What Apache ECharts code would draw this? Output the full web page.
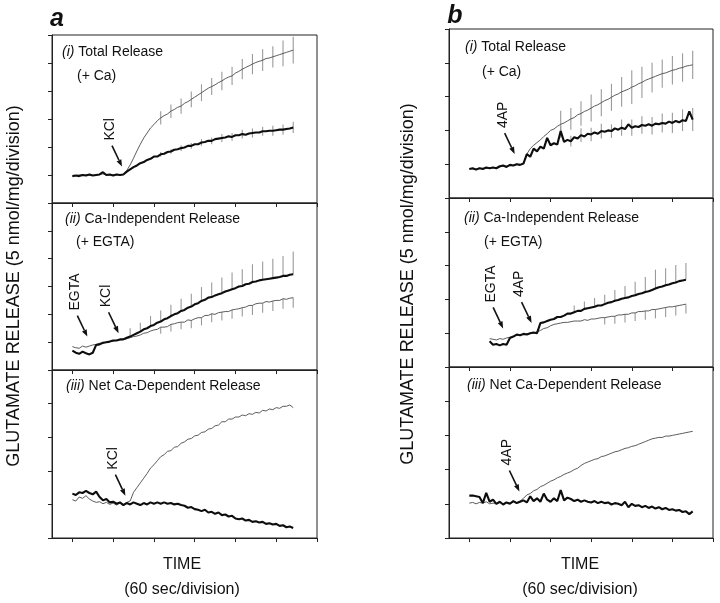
<!DOCTYPE html>
<html><head><meta charset="utf-8">
<script src="https://cdn.jsdelivr.net/npm/echarts@6/dist/echarts.min.js"></script>
<style>html,body{margin:0;padding:0;background:#fff}#c{width:720px;height:603px}</style>
</head><body><div id="c"></div>
<script>
// time in seconds (60 s per division)
const TIME = [0,5,10,15,20,25,30,35,40,45,50,55,60,65,70,75,80,85,90,95,100,105,110,115,120,125,130,135,140,145,150,155,160,165,170,175,180,185,190,195,200,205,210,215,220,225,230,235,240,245,250,255,260,265,270,275,280,285,290,295,300,305,310,315,320,325,330];
const X_TICKS = [0,60,120,180,240,300,360];

// glutamate release, nmol/mg (5 nmol/mg per division)
// Panel a (KCl)
const A1_THICK = [4.8,4.9,4.8,5.0,4.9,5.1,4.9,5.0,5.1,5.5,5.0,5.1,4.9,5.1,5.0,5.1,5.6,6.0,6.4,6.7,7.1,7.3,7.7,7.9,8.3,8.3,8.7,8.8,9.1,9.2,9.5,9.6,9.8,9.9,10.2,10.2,10.5,10.5,10.8,10.9,11.1,11.1,11.4,11.5,11.6,11.7,11.9,11.8,12.1,12.1,12.3,12.2,12.4,12.5,12.6,12.6,12.8,12.8,12.9,12.9,13.0,13.1,13.1,13.2,13.3,13.5];
const A1_THIN = [4.8,4.9,5.0,5.0,5.0,5.0,4.9,5.0,5.1,5.2,5.0,5.0,5.0,5.1,5.0,5.1,5.8,6.8,8.0,9.3,10.5,11.6,12.5,13.4,14.0,14.7,15.2,15.6,15.9,16.4,16.7,17.1,17.3,17.8,18.1,18.5,18.9,19.3,19.7,20.1,20.5,20.8,21.1,21.5,21.8,22.2,22.5,22.7,23.2,23.5,23.9,24.2,24.5,24.8,25.1,25.3,25.5,25.8,25.9,26.1,26.3,26.5,26.7,26.9,27.1,27.3];
const A1_BAR_IDX = [26,29,32,35,38,41,44,47,50,53,56,59,62,65];
const A1_THIN_ERR = [1.2,1.2,1.35,1.4,1.5,1.5,1.65,1.65,1.8,1.8,1.95,1.9,2.3,2.4];
const A1_THICK_ERR = [0.4,0.4,0.5,0.5,0.6,0.6,0.7,0.7,0.8,0.8,0.8,0.9,0.9,1.0];

const A2_THICK = [3.5,3.1,2.9,3.3,3.0,2.8,3.1,4.5,4.6,4.9,5.0,5.1,5.3,5.3,5.5,5.5,5.8,6.0,6.3,6.6,6.9,7.3,7.5,7.9,8.1,8.5,8.7,9.1,9.3,9.7,10.0,10.2,10.6,10.8,11.2,11.4,11.8,12.0,12.4,12.6,13.0,13.1,13.4,13.6,13.8,14.1,14.3,14.5,14.7,15.0,15.1,15.4,15.5,15.8,15.9,16.1,16.2,16.3,16.4,16.5,16.6,16.7,16.9,16.9,17.1,17.2];
const A2_THIN = [4.2,4.0,3.9,4.3,4.1,4.3,4.5,4.6,4.8,4.8,5.0,5.1,5.2,5.3,5.4,5.5,5.6,5.8,6.0,6.1,6.3,6.6,6.7,7.0,7.2,7.3,7.7,7.7,7.8,8.2,8.3,8.5,8.6,8.6,9.0,8.9,9.2,9.4,9.4,9.8,9.8,10.1,10.0,10.3,10.4,10.5,10.5,10.8,10.9,11.0,11.2,11.3,11.6,11.6,11.9,12.0,12.0,12.3,12.2,12.4,12.5,12.5,12.8,12.7,12.9,13.0];
const A2_THICK_BAR_IDX = [17,20,23,26,29,32,35,38,41,44,47,50,53,56,59,62,65];
const A2_THICK_ERR = [1.5,1.6,1.8,2.0,2.0,2.2,2.3,2.5,2.6,2.8,3.0,3.0,3.2,3.3,3.5,3.6,4.1];
const A2_THIN_BAR_IDX = [26,29,32,35,38,41,44,47,50,53,56,59,62,65];
const A2_THIN_ERR = [1.2,1.3,1.3,1.4,1.4,1.5,1.5,1.6,1.6,1.7,1.7,1.8,1.8,1.8];

const A3_THICK = [6.6,6.4,6.8,6.7,7.0,6.7,6.5,6.9,6.1,5.6,5.8,5.3,5.4,5.1,5.3,4.9,5.2,5.0,5.3,5.1,4.9,5.2,5.0,5.3,5.1,5.3,5.1,5.3,5.1,5.2,5.0,5.1,4.9,4.8,4.5,4.6,4.3,4.2,4.0,4.2,3.8,3.9,3.6,3.8,3.4,3.5,3.2,3.3,2.9,2.8,2.9,2.6,2.7,2.4,2.5,2.3,2.4,2.1,2.2,2.0,2.1,1.8,1.9,1.6,1.7,1.5];
const A3_THIN = [5.7,5.5,6.1,5.9,6.3,5.8,5.5,5.3,5.4,5.1,5.3,5.0,5.2,4.9,5.2,5.0,5.3,5.5,6.8,7.5,8.2,8.9,9.6,10.4,10.9,11.5,12.1,12.4,12.9,13.0,13.5,13.6,14.1,14.3,14.7,14.8,15.2,15.3,15.7,15.8,16.2,16.3,16.7,16.8,17.3,17.3,17.7,17.7,18.0,18.0,18.3,18.2,18.5,18.4,18.7,18.6,19.0,18.9,19.2,19.1,19.4,19.3,19.6,19.6,19.8,19.4];

// Panel b (4AP)
const B1_THICK = [4.3,4.4,4.2,4.4,4.3,4.5,4.4,4.5,4.4,4.7,4.8,4.6,4.9,4.8,5.0,4.9,5.1,6.5,6.1,7.3,6.9,7.6,7.3,8.9,7.8,8.1,7.9,9.9,8.3,8.6,8.4,9.0,8.8,9.3,9.1,9.5,9.4,9.7,9.5,9.9,9.8,10.0,9.9,10.3,10.1,10.4,10.2,10.9,10.4,10.6,10.5,10.8,10.7,10.9,10.7,11.0,10.9,11.1,11.0,11.3,11.1,11.4,11.2,11.5,11.4,12.8,11.6];
const B1_THIN = [4.3,4.3,4.3,4.4,4.4,4.4,4.4,4.5,4.5,4.6,4.7,4.7,4.8,4.8,5.0,4.9,5.1,6.5,7.3,7.8,8.2,8.6,9.1,9.5,10.0,10.2,10.6,10.9,11.1,11.4,11.7,11.9,12.3,12.5,12.8,13.0,13.3,13.6,13.8,14.1,14.4,14.6,14.9,15.2,15.4,15.7,15.9,16.1,16.4,16.6,16.9,17.1,17.4,17.6,17.8,18.0,18.2,18.4,18.5,18.7,18.9,19.0,19.2,19.3,19.5,19.6,19.7];
const B1_BAR_IDX = [27,30,33,36,39,42,45,48,51,54,57,60,63,66];
const B1_THIN_ERR = [2.0,1.6,1.8,2.0,2.0,2.0,2.2,2.5,2.3,2.2,2.1,2.1,2.1,2.1];
const B1_THICK_ERR = [0.7,0.8,1.0,1.0,1.1,1.0,1.2,1.2,1.3,1.3,1.4,1.5,1.6,1.7];

const B2_THICK = [null,null,null,null,null,null,3.8,3.3,3.4,3.2,3.4,3.3,4.3,4.5,4.8,4.7,4.9,4.8,5.0,5.1,5.0,6.5,6.6,6.8,7.0,7.1,7.4,7.4,7.6,7.9,7.9,8.1,8.3,8.3,8.6,8.7,8.8,8.9,9.1,9.1,9.3,9.5,9.6,9.8,9.9,10.1,10.2,10.3,10.5,10.6,10.8,10.9,11.1,11.2,11.4,11.6,11.8,11.9,12.1,12.2,12.4,12.5,12.7,12.8,12.9];
const B2_THIN = [null,null,null,null,null,null,4.2,4.1,4.0,4.2,4.1,4.3,4.4,4.5,4.7,4.7,4.8,4.9,5.0,5.0,5.2,5.4,5.7,5.8,6.1,6.3,6.4,6.5,6.6,6.6,6.7,6.8,6.8,6.8,7.0,6.9,7.1,7.1,7.2,7.3,7.3,7.4,7.5,7.5,7.7,7.7,7.8,7.8,8.0,8.0,8.2,8.2,8.3,8.3,8.5,8.5,8.6,8.7,8.8,8.9,8.9,9.0,9.1,9.2,9.3];
const B2_THICK_BAR_IDX = [31,34,37,40,43,46,49,52,55,58,61,64];
const B2_THICK_ERR = [1.0,1.1,1.3,1.4,1.6,1.8,2.0,2.2,2.8,2.5,2.6,2.5];
const B2_THIN_BAR_IDX = [40,43,46,49,52,55,58,61,64];
const B2_THIN_ERR = [1.0,1.1,1.2,1.2,1.3,1.3,1.4,1.4,1.4];

const B3_THICK = [6.2,6.2,6.1,6.0,5.1,6.6,5.3,5.6,5.0,5.3,4.9,5.2,5.0,5.4,5.1,5.3,5.5,5.2,6.1,5.4,5.8,5.3,6.5,5.6,5.3,5.8,5.4,7.0,5.5,5.9,5.7,5.4,5.6,5.3,5.5,5.3,5.2,5.4,5.1,5.3,5.1,5.2,4.9,5.1,5.0,4.8,5.3,4.5,5.0,4.7,4.8,4.5,4.7,4.4,4.6,4.3,4.5,4.2,4.4,4.1,4.2,4.0,4.1,3.8,3.9,3.5,3.9];
const B3_THIN = [5.1,5.2,5.0,5.2,5.1,5.3,5.0,5.1,5.0,5.2,5.0,5.2,5.1,5.3,5.2,5.4,5.8,6.3,6.5,6.9,7.1,7.5,7.7,8.0,8.3,8.5,8.8,9.0,9.3,9.5,9.7,10.0,10.2,10.6,10.9,11.1,11.3,11.5,11.6,11.9,12.0,12.2,12.4,12.6,12.7,12.9,13.1,13.2,13.4,13.5,13.7,13.9,14.1,14.3,14.5,14.6,14.7,14.7,14.9,14.9,15.0,15.1,15.2,15.3,15.4,15.5,15.6];

// arrow annotations: tip position (time s, nmol/mg)
const A1_NOTES = [{label:'KCl', t:73, v:6.5}];
const A2_NOTES = [{label:'EGTA', t:22, v:6.0}, {label:'KCl', t:68, v:6.6}];
const A3_NOTES = [{label:'KCl', t:78, v:6.3}];
const B1_NOTES = [{label:'4AP', t:67, v:6.5}];
const B2_NOTES = [{label:'EGTA', t:50, v:5.7}, {label:'4AP', t:92, v:6.5}];
const B3_NOTES = [{label:'4AP', t:74, v:6.8}];

const Y_TITLE = 'GLUTAMATE RELEASE (5 nmol/mg/division)';
const X_TITLE = 'TIME';
const X_SUB = '(60 sec/division)';

const FONT = '"Liberation Sans", Arial, Helvetica, sans-serif';
const GRIDS = [
  {left:52, top:35, width:265, height:168},
  {left:52, top:203, width:265, height:167},
  {left:52, top:370, width:265, height:168},
  {left:449, top:29, width:264, height:169},
  {left:449, top:198, width:264, height:169},
  {left:449, top:367, width:264, height:171}
];
const PANELS = [
  {thick:A1_THICK, thin:A1_THIN, yMax:30, notes:A1_NOTES,
   bars:[{src:A1_THIN, idx:A1_BAR_IDX, err:A1_THIN_ERR, dir:'both'},{src:A1_THICK, idx:A1_BAR_IDX, err:A1_THICK_ERR, dir:'both'}]},
  {thick:A2_THICK, thin:A2_THIN, yMax:30, notes:A2_NOTES,
   bars:[{src:A2_THICK, idx:A2_THICK_BAR_IDX, err:A2_THICK_ERR, dir:'up'},{src:A2_THIN, idx:A2_THIN_BAR_IDX, err:A2_THIN_ERR, dir:'down'}]},
  {thick:A3_THICK, thin:A3_THIN, yMax:25, notes:A3_NOTES, bars:[]},
  {thick:B1_THICK, thin:B1_THIN, yMax:25, notes:B1_NOTES,
   bars:[{src:B1_THIN, idx:B1_BAR_IDX, err:B1_THIN_ERR, dir:'both'},{src:B1_THICK, idx:B1_BAR_IDX, err:B1_THICK_ERR, dir:'both'}]},
  {thick:B2_THICK, thin:B2_THIN, yMax:25, notes:B2_NOTES,
   bars:[{src:B2_THICK, idx:B2_THICK_BAR_IDX, err:B2_THICK_ERR, dir:'up'},{src:B2_THIN, idx:B2_THIN_BAR_IDX, err:B2_THIN_ERR, dir:'down'}]},
  {thick:B3_THICK, thin:B3_THIN, yMax:25, notes:B3_NOTES, bars:[]}
];

function pairs(arr){
  const out=[];
  arr.forEach((v,i)=>{ if(v!==null && v!==undefined) out.push([TIME[i], v]); });
  return out;
}

const grid=[], xAxis=[], yAxis=[], series=[];
PANELS.forEach((p,k)=>{
  grid.push(Object.assign({show:true, borderColor:'#222', borderWidth:1, backgroundColor:'transparent', containLabel:false}, GRIDS[k]));
  xAxis.push({type:'value', gridIndex:k, min:-30, max:360,
    axisLine:{show:true, onZero:false, lineStyle:{color:'#222', width:1}},
    axisTick:{show:true, inside:false, length:4, customValues:X_TICKS, lineStyle:{color:'#222', width:1}},
    axisLabel:{show:false}, splitLine:{show:false}});
  yAxis.push({type:'value', gridIndex:k, min:0, max:p.yMax, interval:5,
    axisLine:{show:true, onZero:false, lineStyle:{color:'#222', width:1}},
    axisTick:{show:true, inside:false, length:4, lineStyle:{color:'#222', width:1}},
    axisLabel:{show:false}, splitLine:{show:false}});
  p.bars.forEach(b=>{
    const data = b.idx.map((ix,j)=>[TIME[ix], b.src[ix], b.dir==='up'?0:b.err[j], b.dir==='down'?0:b.err[j]]);
    series.push({type:'custom', xAxisIndex:k, yAxisIndex:k, silent:true, z:1, clip:false,
      encode:{x:0, y:1}, data,
      renderItem:(params, api)=>{
        const x=api.value(0), y=api.value(1), lo=api.value(2), hi=api.value(3);
        const p1=api.coord([x, y-lo]), p2=api.coord([x, y+hi]);
        return {type:'line', shape:{x1:p1[0], y1:p1[1], x2:p2[0], y2:p2[1]}, style:{stroke:'#9a9a9a', lineWidth:1.1}};
      }});
  });
  series.push({type:'line', xAxisIndex:k, yAxisIndex:k, data:pairs(p.thin), symbol:'none', showSymbol:false, silent:true, z:2,
    lineStyle:{color:'#4a4a4a', width:0.9}, animation:false});
  series.push({type:'line', xAxisIndex:k, yAxisIndex:k, data:pairs(p.thick), symbol:'none', showSymbol:false, silent:true, z:3,
    lineStyle:{color:'#0d0d0d', width:2.1}, animation:false});
  const notes = p.notes;
  series.push({type:'custom', xAxisIndex:k, yAxisIndex:k, silent:true, z:4, clip:false,
    encode:{x:0, y:1}, data: notes.map(n=>[n.t, n.v]),
    renderItem:(params, api)=>{
      const tip = api.coord([api.value(0), api.value(1)]);
      const tail = [tip[0]-10, tip[1]-21];
      const L = Math.hypot(10,21), dx=10/L, dy=21/L;
      const hl=7, hw=2.6;
      const bx = tip[0]-dx*hl, by = tip[1]-dy*hl;
      const nx=-dy, ny=dx;
      const label = notes[params.dataIndex].label;
      return {type:'group', children:[
        {type:'line', shape:{x1:tail[0], y1:tail[1], x2:bx, y2:by}, style:{stroke:'#111', lineWidth:1.6}},
        {type:'polygon', shape:{points:[[tip[0],tip[1]],[bx+nx*hw,by+ny*hw],[bx-nx*hw,by-ny*hw]]}, style:{fill:'#111'}},
        {type:'text', x:tail[0]-2, y:tail[1]-5, rotation:Math.PI/2,
         style:{text:label, font:'14px '+FONT, fill:'#111', align:'left', verticalAlign:'middle'}}
      ]};
    }});
});

function txt(x,y,text,size,opts){
  return Object.assign({type:'text', x, y, silent:true,
    style:Object.assign({text, font:size+'px '+FONT, fill:'#111', align:'left', verticalAlign:'middle'}, (opts&&opts.style)||{})},
    (opts&&opts.el)||{});
}
function titleTxt(x,y,num,rest){
  return {type:'text', x, y, silent:true, style:{
    text:'{it|'+num+'} '+rest, font:'14px '+FONT, fontSize:14, fontFamily:FONT, fill:'#111', align:'left', verticalAlign:'middle',
    rich:{it:{fontStyle:'italic', fontSize:14, fontFamily:FONT, fill:'#111'}}}};
}
const graphic = [
  txt(57,19,'a',25,{style:{font:'italic bold 25px '+FONT, align:'center'}}),
  txt(455,16,'b',25,{style:{font:'italic bold 25px '+FONT, align:'center'}}),
  titleTxt(62,52,'(i)','Total Release'), txt(77,76,'(+ Ca)',14),
  titleTxt(65,219,'(ii)','Ca-Independent Release'), txt(76,242,'(+ EGTA)',14),
  titleTxt(66,386,'(iii)','Net Ca-Dependent Release'),
  titleTxt(465,47,'(i)','Total Release'), txt(482,72,'(+ Ca)',14),
  titleTxt(464,218,'(ii)','Ca-Independent Release'), txt(484,242,'(+ EGTA)',14),
  titleTxt(467,385,'(iii)','Net Ca-Dependent Release'),
  txt(14,286,Y_TITLE,18,{style:{align:'center'}, el:{rotation:Math.PI/2}}),
  txt(408,284,Y_TITLE,18,{style:{align:'center'}, el:{rotation:Math.PI/2}}),
  txt(182,565,X_TITLE,16,{style:{align:'center'}}),
  txt(182,590,X_SUB,16,{style:{align:'center'}}),
  txt(580,565,X_TITLE,16,{style:{align:'center'}}),
  txt(580,590,X_SUB,16,{style:{align:'center'}})
];

const chart = echarts.init(document.getElementById('c'), null, {renderer:'canvas'});
chart.setOption({animation:false, backgroundColor:'#fff', grid, xAxis, yAxis, series, graphic});
</script></body></html>
